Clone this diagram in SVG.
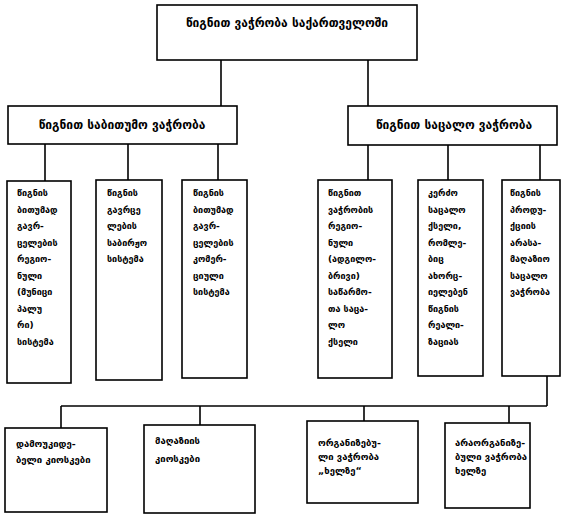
<svg xmlns="http://www.w3.org/2000/svg" width="563" height="514" viewBox="0 0 563 514">
<style>
rect{fill:#fff;stroke:#000;stroke-width:1.6}
.c line{stroke:#000;stroke-width:1.6}
text{font-family:"DejaVu Sans","Noto Sans",sans-serif;font-weight:bold;fill:#000}
.h{font-size:12px}
.t{font-size:9px}
.b{font-size:9.5px}
</style>
<rect x="0" y="0" width="563" height="514" style="fill:#fff;stroke:none"/>
<g class="c" id="connectors">
<line x1="221" y1="60" x2="221" y2="106"/>
<line x1="368" y1="60" x2="368" y2="106"/>
<line x1="45" y1="144" x2="45" y2="181"/>
<line x1="128" y1="144" x2="128" y2="180"/>
<line x1="218" y1="144" x2="218" y2="180"/>
<line x1="368" y1="145" x2="368" y2="180"/>
<line x1="448" y1="145" x2="448" y2="180"/>
<line x1="540" y1="145" x2="540" y2="180"/>
<line x1="547" y1="376" x2="547" y2="406"/>
<line x1="61" y1="406" x2="547" y2="406"/>
<line x1="61" y1="406" x2="61" y2="428"/>
<line x1="200" y1="406" x2="200" y2="425"/>
<line x1="364" y1="406" x2="364" y2="421"/>
<line x1="509" y1="406" x2="509" y2="423"/>
</g>
<g id="n-top"><rect x="157" y="5" width="260" height="55"/><text class="h" x="287" y="27" text-anchor="middle">წიგნით ვაჭრობა საქართველოში</text></g>
<g id="n-wholesale"><rect x="8" y="106" width="229" height="38"/><text class="h" x="122" y="129" text-anchor="middle">წიგნით საბითუმო ვაჭრობა</text></g>
<g id="n-retail"><rect x="348" y="106" width="209" height="39"/><text class="h" x="454" y="129" text-anchor="middle">წიგნით საცალო ვაჭრობა</text></g>
<g id="n-1"><rect x="7" y="181" width="64" height="202"/>
<text class="t" x="17" y="196"><tspan x="17">წიგნის</tspan><tspan x="17" dy="16.5">ბითუმად</tspan><tspan x="17" dy="16.5">გავრ-</tspan><tspan x="17" dy="16.5">ცელების</tspan><tspan x="17" dy="16.5">რეგიო-</tspan><tspan x="17" dy="16.5">ნული</tspan><tspan x="17" dy="16.5">(მუნიცი</tspan><tspan x="17" dy="16.5">პალუ</tspan><tspan x="17" dy="16.5">რი)</tspan><tspan x="17" dy="16.5">სისტემა</tspan></text></g>
<g id="n-2"><rect x="96" y="180" width="66" height="200"/>
<text class="t" x="107" y="196"><tspan x="107">წიგნის</tspan><tspan x="107" dy="16.5">გავრცე</tspan><tspan x="107" dy="16.5">ლების</tspan><tspan x="107" dy="16.5">საბირჟო</tspan><tspan x="107" dy="16.5">სისტემა</tspan></text></g>
<g id="n-3"><rect x="182" y="180" width="65" height="198"/>
<text class="t" x="193" y="196"><tspan x="193">წიგნის</tspan><tspan x="193" dy="16.5">ბითუმად</tspan><tspan x="193" dy="16.5">გავრ-</tspan><tspan x="193" dy="16.5">ცელების</tspan><tspan x="193" dy="16.5">კომერ-</tspan><tspan x="193" dy="16.5">ციული</tspan><tspan x="193" dy="16.5">სისტემა</tspan></text></g>
<g id="n-4"><rect x="318" y="180" width="74" height="198"/>
<text class="t" x="328" y="196"><tspan x="328">წიგნით</tspan><tspan x="328" dy="16.5">ვაჭრობის</tspan><tspan x="328" dy="16.5">რეგიო-</tspan><tspan x="328" dy="16.5">ნული</tspan><tspan x="328" dy="16.5">(ადგილო-</tspan><tspan x="328" dy="16.5">ბრივი)</tspan><tspan x="328" dy="16.5">საწარმო-</tspan><tspan x="328" dy="16.5">თა საცა-</tspan><tspan x="328" dy="16.5">ლო</tspan><tspan x="328" dy="16.5">ქსელი</tspan></text></g>
<g id="n-5"><rect x="418" y="180" width="65" height="196"/>
<text class="t" x="428" y="196"><tspan x="428">კერძო</tspan><tspan x="428" dy="16.5">საცალო</tspan><tspan x="428" dy="16.5">ქსელი,</tspan><tspan x="428" dy="16.5">რომლე-</tspan><tspan x="428" dy="16.5">ბიც</tspan><tspan x="428" dy="16.5">ახორც-</tspan><tspan x="428" dy="16.5">იელებენ</tspan><tspan x="428" dy="16.5">წიგნის</tspan><tspan x="428" dy="16.5">რეალი-</tspan><tspan x="428" dy="16.5">ზაციას</tspan></text></g>
<g id="n-6"><rect x="502" y="180" width="58" height="196"/>
<text class="t" x="510" y="196"><tspan x="510">წიგნის</tspan><tspan x="510" dy="16.5">პროდუ-</tspan><tspan x="510" dy="16.5">ქციის</tspan><tspan x="510" dy="16.5">არასა-</tspan><tspan x="510" dy="16.5">მაღაზიო</tspan><tspan x="510" dy="16.5">საცალო</tspan><tspan x="510" dy="16.5">ვაჭრობა</tspan></text></g>
<g id="n-a"><rect x="5" y="428" width="102" height="84"/>
<text class="b" x="16" y="447"><tspan x="16">დამოუკიდე-</tspan><tspan x="16" dy="16">ბელი კიოსკები</tspan></text></g>
<g id="n-b"><rect x="144" y="425" width="111" height="88"/>
<text class="b" x="155" y="444"><tspan x="155">მაღაზიის</tspan><tspan x="155" dy="18">კიოსკები</tspan></text></g>
<g id="n-c"><rect x="307" y="421" width="111" height="82"/>
<text class="b" x="318" y="446"><tspan x="318">ორგანიზებუ-</tspan><tspan x="318" dy="14">ლი ვაჭრობა</tspan><tspan x="318" dy="14">„ხელზე“</tspan></text></g>
<g id="n-d"><rect x="445" y="423" width="85" height="85"/>
<text class="b" x="455" y="446"><tspan x="455">არაორგანიზე-</tspan><tspan x="455" dy="14">ბული ვაჭრობა</tspan><tspan x="455" dy="14">ხელზე</tspan></text></g>
</svg>
